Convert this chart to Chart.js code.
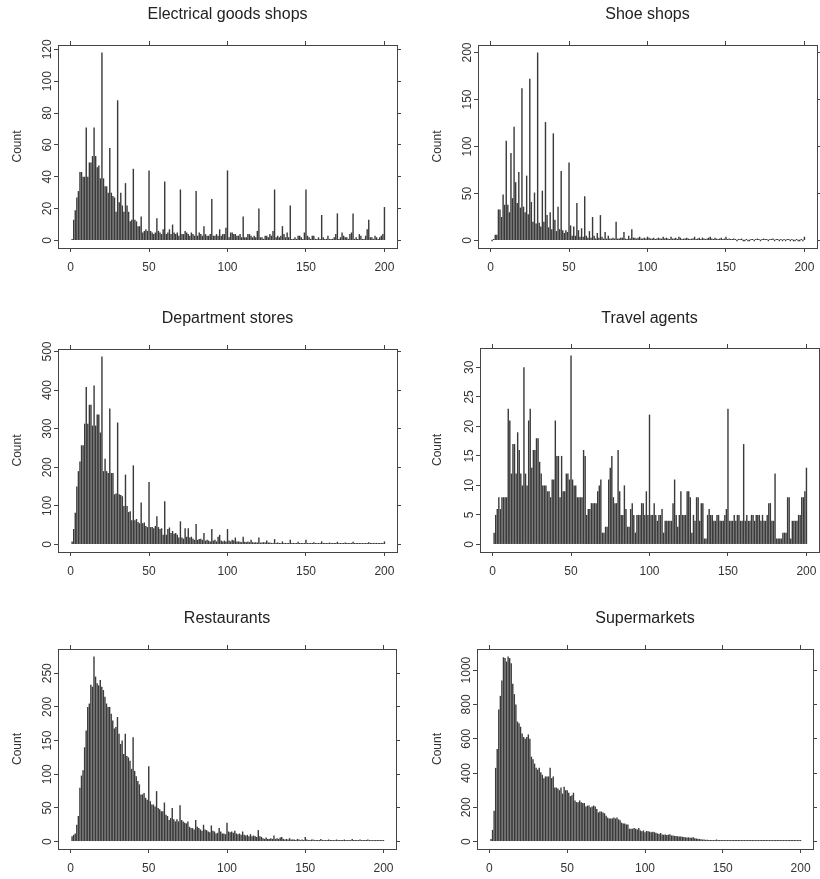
<!DOCTYPE html>
<html>
<head>
<meta charset="utf-8">
<script src="https://cdn.jsdelivr.net/npm/chart.js@4.4.0/dist/chart.umd.min.js"></script>
<style>
html,body{margin:0;padding:0;background:#fff;width:820px;height:879px;overflow:hidden;}
canvas{position:absolute;}
</style>
</head>
<body>
<canvas id="c1"></canvas>
<canvas id="c2"></canvas>
<canvas id="c3"></canvas>
<canvas id="c4"></canvas>
<canvas id="c5"></canvas>
<canvas id="c6"></canvas>
<script>
// ---------- data ----------
const bins = Array.from({length: 200}, (_, i) => i + 1);
const xTickValues = [0, 50, 100, 150, 200];

const electricalCounts = [
 1,13,19,27,31,43,43,40,40,71,
 40,49,49,53,71,53,46,47,39,118,
 39,34,34,30,58,30,28,27,18,88,
 24,30,22,18,36,22,18,12,13,45,
 13,12,9,9,15,5,6,7,6,44,
 6,5,4,5,14,6,5,4,7,37,
 4,5,7,4,10,5,4,5,3,32,
 4,4,6,5,4,3,5,4,3,31,
 3,5,4,3,9,4,3,3,4,26,
 3,3,4,3,7,3,4,4,8,44,
 2,5,5,4,4,3,3,4,2,15,
 2,2,4,4,3,2,3,2,6,20,
 2,2,1,3,3,2,4,3,6,32,
 2,3,2,3,9,4,2,5,2,22,
 1,1,2,1,3,3,2,1,5,32,
 3,2,1,3,3,1,1,2,1,16,
 2,1,1,3,1,1,1,2,4,17,
 1,2,5,3,2,2,1,4,5,17,
 1,2,1,4,3,1,1,3,7,13,
 2,2,1,3,2,1,2,3,4,21];
const electricalYTicks = [0, 20, 40, 60, 80, 100, 120];

const shoeCounts = [
 0,1,6,6,33,33,25,49,38,106,
 38,30,93,45,121,62,40,73,35,162,
 36,30,69,28,172,41,20,51,18,200,
 19,15,53,20,126,27,14,30,12,114,
 22,10,36,12,74,11,8,11,9,83,
 16,5,15,5,40,11,4,13,4,47,
 5,3,10,3,25,5,2,8,3,27,
 4,2,9,2,5,2,2,3,2,20,
 2,2,3,3,9,2,1,5,2,12,
 3,3,2,3,4,2,2,3,2,4,
 3,2,2,3,1,2,3,2,2,4,
 2,3,2,1,4,2,2,3,1,4,
 3,1,2,2,3,2,1,2,2,4,
 1,2,3,1,3,2,1,2,3,4,
 2,1,3,2,1,2,3,1,2,4,
 1,2,1,1,2,1,0,1,1,2,
 0,0,1,0,0,1,1,0,1,2,
 1,0,1,2,1,1,0,1,1,2,
 0,1,1,0,1,0,1,0,1,1,
 0,1,0,0,1,0,0,1,0,4];
const shoeYTicks = [0, 50, 100, 150, 200];

const departmentCounts = [
 8,40,82,150,190,215,257,257,313,408,
 313,362,362,308,412,308,337,337,290,487,
 190,222,190,185,352,185,185,130,132,316,
 130,128,125,100,181,100,84,86,63,205,
 63,66,58,55,109,55,57,48,45,162,
 45,45,42,48,73,45,40,42,25,112,
 25,40,44,30,35,28,30,25,18,60,
 18,15,42,20,42,18,20,15,12,53,
 12,14,15,12,30,10,12,10,8,40,
 10,12,8,20,25,10,8,10,8,40,
 10,8,12,10,18,8,8,7,6,20,
 7,6,8,6,12,6,5,6,5,18,
 5,5,6,5,10,5,5,4,4,14,
 4,5,4,4,8,4,4,3,4,12,
 3,4,3,3,7,3,3,3,3,12,
 3,3,3,2,6,3,2,3,2,8,
 2,3,2,2,5,2,2,2,2,7,
 2,2,3,2,5,2,2,2,2,7,
 2,2,2,2,4,2,2,2,2,6,
 2,2,2,2,4,2,2,2,3,8];
const departmentYTicks = [0, 100, 200, 300, 400, 500];

const travelCounts = [
 2,5,6,8,6,8,8,8,8,23,
 21,12,17,17,12,19,16,12,10,30,
 12,10,21,23,13,16,16,18,18,14,
 12,10,10,10,9,9,8,11,11,21,
 15,15,8,15,9,9,12,12,11,32,
 11,10,10,8,8,8,8,16,15,5,
 6,6,7,7,7,7,9,10,11,2,
 2,3,3,11,13,15,8,7,7,16,
 9,5,5,10,6,3,3,6,7,5,
 2,5,5,5,7,7,5,9,5,22,
 5,5,7,5,4,5,5,6,2,4,
 4,4,4,4,7,11,5,3,5,9,
 5,5,5,9,9,8,2,5,4,8,
 8,4,7,7,1,1,5,6,5,5,
 4,4,5,5,4,4,4,5,6,23,
 4,4,4,5,4,5,5,4,4,17,
 4,5,4,4,5,5,4,5,5,5,
 4,5,4,4,5,7,7,4,4,12,
 1,1,1,1,2,2,2,8,8,1,
 4,4,4,4,5,5,8,8,9,13];
const travelYTicks = [0, 5, 10, 15, 20, 25, 30];

const restaurantCounts = [
 8,10,12,25,38,80,98,106,140,165,
 200,205,233,230,275,245,235,232,240,230,
 225,215,205,200,200,190,180,168,170,185,
 160,145,150,130,160,127,125,120,108,155,
 105,97,90,85,70,70,72,65,62,112,
 60,55,55,52,75,50,48,45,45,58,
 40,38,32,35,50,33,30,33,30,54,
 32,30,28,27,30,22,20,20,18,32,
 22,20,18,16,25,18,17,15,14,24,
 16,15,12,13,20,15,12,12,11,28,
 15,14,15,13,16,12,11,12,10,15,
 10,9,10,8,11,8,9,8,7,17,
 8,7,5,4,6,4,4,5,4,9,
 4,5,4,6,7,4,3,4,3,5,
 3,3,3,2,4,3,2,3,2,7,
 3,2,2,3,3,2,2,2,2,4,
 2,2,1,2,3,2,2,1,2,3,
 1,2,2,1,3,2,1,1,2,4,
 1,2,1,1,3,2,1,2,1,3,
 1,2,1,1,2,1,1,1,1,1];
const restaurantYTicks = [0, 50, 100, 150, 200, 250];

const supermarketCounts = [
 15,68,180,430,540,770,850,940,1075,1070,
 1050,1080,1070,1040,920,860,800,700,690,670,
 630,610,600,610,625,600,495,480,455,430,
 420,430,405,390,370,380,380,380,430,370,
 380,315,315,310,300,315,280,320,300,300,
 285,265,270,285,240,230,230,240,230,225,
 225,205,210,210,200,205,210,205,190,170,
 175,175,170,165,150,140,135,135,135,140,
 135,140,130,125,110,105,105,100,100,75,
 75,75,80,75,70,80,65,60,65,55,
 62,60,58,55,57,55,52,48,45,50,
 42,40,42,38,40,43,36,35,33,32,
 31,30,29,28,27,25,24,25,22,23,
 25,20,18,17,15,14,12,12,10,11,
 10,9,8,9,8,12,8,8,7,6,
 6,6,5,5,5,5,5,4,4,5,
 4,4,4,4,4,4,7,4,3,4,
 3,4,3,3,3,3,3,3,3,3,
 3,3,3,3,3,3,3,3,3,3,
 3,3,3,3,3,3,3,3,3,3];
const supermarketYTicks = [0, 200, 400, 600, 800, 1000];

// ---------- layout ----------
const panels = [
  {id:'c1', title:'Electrical goods shops', counts: electricalCounts,  yTicks: electricalYTicks,  box:{cl:0,   ct:0,   cw:410, ch:290, fl:58,  ft:45,  fr:397, fb:248}},
  {id:'c2', title:'Shoe shops',             counts: shoeCounts,        yTicks: shoeYTicks,        box:{cl:420, ct:0,   cw:400, ch:290, fl:478, ft:45,  fr:817, fb:248}},
  {id:'c3', title:'Department stores',      counts: departmentCounts,  yTicks: departmentYTicks,  box:{cl:0,   ct:304, cw:410, ch:290, fl:58,  ft:349, fr:397, fb:552}},
  {id:'c4', title:'Travel agents',          counts: travelCounts,      yTicks: travelYTicks,      box:{cl:420, ct:304, cw:400, ch:290, fl:480, ft:348, fr:819, fb:552}},
  {id:'c5', title:'Restaurants',            counts: restaurantCounts,  yTicks: restaurantYTicks,  box:{cl:0,   ct:604, cw:410, ch:275, fl:58,  ft:649, fr:396, fb:849}},
  {id:'c6', title:'Supermarkets',           counts: supermarketCounts, yTicks: supermarketYTicks, box:{cl:420, ct:604, cw:400, ch:275, fl:477, ft:649, fr:813, fb:849}}
];

const FONT = "'Liberation Sans', Arial, Helvetica, sans-serif";
Chart.defaults.font.family = FONT;

const yLabelPlugin = {
  id: 'rotatedYLabels',
  afterDraw(chart) {
    const s = chart.scales.y;
    const ctx = chart.ctx;
    ctx.save();
    ctx.font = '12px ' + FONT;
    ctx.fillStyle = '#333';
    ctx.textAlign = 'center';
    ctx.textBaseline = 'alphabetic';
    s.ticks.forEach(t => {
      const py = s.getPixelForValue(t.value);
      ctx.save();
      ctx.translate(s.right - 7, py);
      ctx.rotate(-Math.PI / 2);
      ctx.fillText(String(t.value), 0, 0);
      ctx.restore();
    });
    ctx.restore();
  }
};

function makeChart(p) {
  const b = p.box;
  const cv = document.getElementById(p.id);
  cv.width = b.cw; cv.height = b.ch;
  cv.style.left = b.cl + 'px'; cv.style.top = b.ct + 'px';
  cv.style.width = b.cw + 'px'; cv.style.height = b.ch + 'px';

  const maxV = Math.max(...p.counts);
  const yMin = -0.04 * maxV, yMax = 1.04 * maxV;
  const xLo = xTickValues[0], xHi = xTickValues[xTickValues.length - 1];
  const xPad = 0.04 * (xHi - xLo);
  const xMin = xLo - xPad, xMax = xHi + xPad;

  const frame = '#444';
  const grid = () => ({display: true, drawOnChartArea: false, drawTicks: true, tickLength: 4, color: frame, lineWidth: 1, offset: false});
  const border = () => ({display: true, color: frame, width: 1});
  const x2H = 8;
  const titleLine = 19.2;
  const titlePadTop = 5;
  const titlePadBottom = (b.ft - b.ct - x2H) - titlePadTop - titleLine;

  new Chart(cv, {
    type: 'bar',
    data: {
      datasets: [{
        data: bins.map((x, i) => ({x: x, y: p.counts[i]})),
        backgroundColor: '#3a3a3a',
        borderWidth: 0,
        barPercentage: 0.9,
        categoryPercentage: 1,
        minBarLength: 1.5,
        xAxisID: 'x', yAxisID: 'y'
      }]
    },
    options: {
      responsive: false,
      animation: false,
      devicePixelRatio: 1,
      layout: {padding: 0, autoPadding: false},
      plugins: {
        legend: {display: false},
        tooltip: {enabled: false},
        title: {
          display: true, text: p.title, fullSize: false, color: '#222',
          font: {size: 16, weight: 'normal', family: FONT, lineHeight: 1.2},
          padding: {top: titlePadTop, bottom: titlePadBottom}
        }
      },
      scales: {
        x: {
          type: 'linear', position: 'bottom', min: xMin, max: xMax, offset: false,
          grid: grid(), border: border(),
          afterBuildTicks: s => { s.ticks = xTickValues.map(v => ({value: v})); },
          ticks: {color: '#333', font: {size: 12}, padding: 8.8, minRotation: 0, maxRotation: 0, autoSkip: false},
          afterFit: s => { s.height = b.ct + b.ch - b.fb; s.paddingLeft = 0; s.paddingRight = 0; }
        },
        x2: {
          type: 'linear', position: 'top', min: xMin, max: xMax, offset: false,
          grid: grid(), border: border(),
          afterBuildTicks: s => { s.ticks = xTickValues.map(v => ({value: v})); },
          ticks: {display: false},
          afterFit: s => { s.height = x2H; }
        },
        y: {
          type: 'linear', position: 'left', min: yMin, max: yMax,
          grid: grid(), border: border(),
          afterBuildTicks: s => { s.ticks = p.yTicks.map(v => ({value: v})); },
          ticks: {display: false},
          title: {display: true, text: 'Count', color: '#333', font: {size: 12}, padding: {top: 10, bottom: 0}},
          afterFit: s => { s.width = b.fl - b.cl; }
        },
        y2: {
          type: 'linear', position: 'right', min: yMin, max: yMax,
          grid: grid(), border: border(),
          afterBuildTicks: s => { s.ticks = p.yTicks.map(v => ({value: v})); },
          ticks: {display: false},
          afterFit: s => { s.width = b.cl + b.cw - b.fr; }
        }
      }
    },
    plugins: [yLabelPlugin]
  });
}

panels.forEach(makeChart);
</script>
</body>
</html>
